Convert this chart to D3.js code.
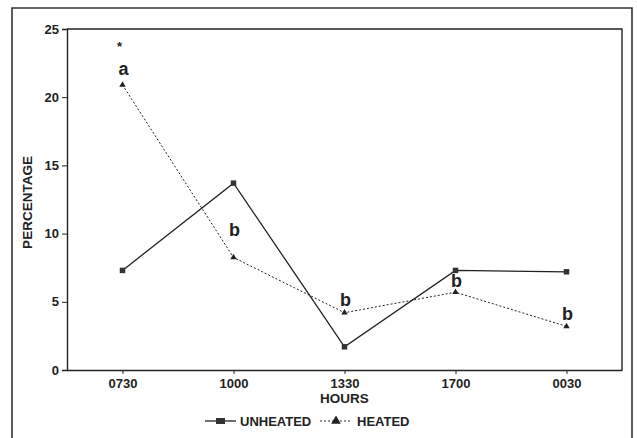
<!DOCTYPE html>
<html>
<head>
<meta charset="utf-8">
<script src="https://cdn.jsdelivr.net/npm/d3@7"></script>
<style>
	body { margin: 0; background: #fff; }
	text { font-family: "Liberation Sans", Arial, Helvetica, sans-serif; font-weight: bold; fill: #222; }
</style>
</head>
<body>
<svg id="chart"></svg>
<script>
const hours = ["0730", "1000", "1330", "1700", "0030"];
const unheated = [7.3, 13.7, 1.7, 7.3, 7.2];
const heated = [20.9, 8.25, 4.2, 5.7, 3.2];
const yTicks = [0, 5, 10, 15, 20, 25];
// letters above the heated points, with the level (in %) of their baseline
const sigLetters = ["a", "b", "b", "b", "b"];
const sigLevels = [21.6, 9.8, 4.7, 6.1, 3.7];
const starLevel = 23.4;

const width = 637, height = 438;
const margin = { top: 29, right: 15, bottom: 68, left: 67 };

const svg = d3.select("#chart").attr("width", width).attr("height", height);

// outer frame of the figure
svg.append("path")
	.attr("d", "M12,445 L12,8 L632,8 L632,445")
	.attr("fill", "none")
	.attr("stroke", "#333")
	.attr("stroke-width", 1.6);

const x = d3.scalePoint()
	.domain(hours)
	.range([margin.left, width - margin.right])
	.padding(0.5);

const y = d3.scaleLinear()
	.domain([0, 25])
	.range([height - margin.bottom, margin.top]);

// plot box (top and right)
svg.append("path")
	.attr("d", `M${margin.left},${margin.top} L${width - margin.right},${margin.top} L${width - margin.right},${height - margin.bottom}`)
	.attr("fill", "none")
	.attr("stroke", "#222")
	.attr("stroke-width", 1.4);

const yAxis = svg.append("g")
	.attr("transform", `translate(${margin.left},0)`)
	.call(d3.axisLeft(y).tickValues(yTicks).tickSize(5).tickPadding(3));
yAxis.select(".domain").attr("stroke", "#222").attr("stroke-width", 1.4);
yAxis.selectAll(".tick line").attr("stroke", "#222");
yAxis.selectAll("text").attr("font-size", "13px").attr("fill", "#222");

const xAxis = svg.append("g")
	.attr("transform", `translate(0,${height - margin.bottom})`)
	.call(d3.axisBottom(x).tickSize(4).tickPadding(5).tickSizeOuter(0));
xAxis.select(".domain").attr("stroke", "#222").attr("stroke-width", 1.4);
xAxis.selectAll(".tick line").attr("stroke", "#222");
xAxis.selectAll("text").attr("font-size", "13px").attr("fill", "#222");

svg.append("text")
	.attr("x", (margin.left + width - margin.right) / 2)
	.attr("y", 403)
	.attr("text-anchor", "middle")
	.attr("font-size", "13.5px")
	.text("HOURS");

svg.append("text")
	.attr("transform", `translate(32,${(margin.top + height - margin.bottom) / 2 + 3}) rotate(-90)`)
	.attr("text-anchor", "middle")
	.attr("font-size", "13.5px")
	.text("PERCENTAGE");

const line = d3.line()
	.x((d, i) => x(hours[i]))
	.y(d => y(d));

svg.append("path")
	.datum(unheated)
	.attr("d", line)
	.attr("fill", "none")
	.attr("stroke", "#222")
	.attr("stroke-width", 1.3);

svg.append("path")
	.datum(heated)
	.attr("d", line)
	.attr("fill", "none")
	.attr("stroke", "#222")
	.attr("stroke-width", 1)
	.attr("stroke-dasharray", "2,2");

const square = d3.symbol().type(d3.symbolSquare).size(30);
const triangle = d3.symbol().type(d3.symbolTriangle).size(18);

svg.selectAll(".sq")
	.data(unheated)
	.join("path")
	.attr("class", "sq")
	.attr("d", square)
	.attr("transform", (d, i) => `translate(${x(hours[i])},${y(d)})`)
	.attr("fill", "#333");

svg.selectAll(".tri")
	.data(heated)
	.join("path")
	.attr("class", "tri")
	.attr("d", triangle)
	.attr("transform", (d, i) => `translate(${x(hours[i])},${y(d)})`)
	.attr("fill", "#222");

svg.selectAll(".sig")
	.data(sigLetters)
	.join("text")
	.attr("class", "sig")
	.attr("x", (d, i) => x(hours[i]) + 1)
	.attr("y", (d, i) => y(sigLevels[i]))
	.attr("text-anchor", "middle")
	.attr("font-size", "18px")
	.text(d => d);

svg.append("text")
	.attr("x", x(hours[0]) - 3)
	.attr("y", y(starLevel))
	.attr("text-anchor", "middle")
	.attr("font-size", "13px")
	.text("*");

// legend
const legY = 421;
const leg = svg.append("g");
leg.append("line")
	.attr("x1", 205).attr("x2", 236).attr("y1", legY).attr("y2", legY)
	.attr("stroke", "#222").attr("stroke-width", 1.3);
leg.append("rect")
	.attr("x", 216).attr("y", legY - 3).attr("width", 9).attr("height", 6)
	.attr("fill", "#333");
leg.append("text")
	.attr("x", 240).attr("y", legY + 5)
	.attr("font-size", "13px")
	.text("UNHEATED");
leg.append("line")
	.attr("x1", 320).attr("x2", 352).attr("y1", legY).attr("y2", legY)
	.attr("stroke", "#222").attr("stroke-width", 1)
	.attr("stroke-dasharray", "2,2");
leg.append("path")
	.attr("d", d3.symbol().type(d3.symbolTriangle).size(40))
	.attr("transform", `translate(336,${legY})`)
	.attr("fill", "#222");
leg.append("text")
	.attr("x", 357).attr("y", legY + 5)
	.attr("font-size", "13px")
	.text("HEATED");
</script>
</body>
</html>
